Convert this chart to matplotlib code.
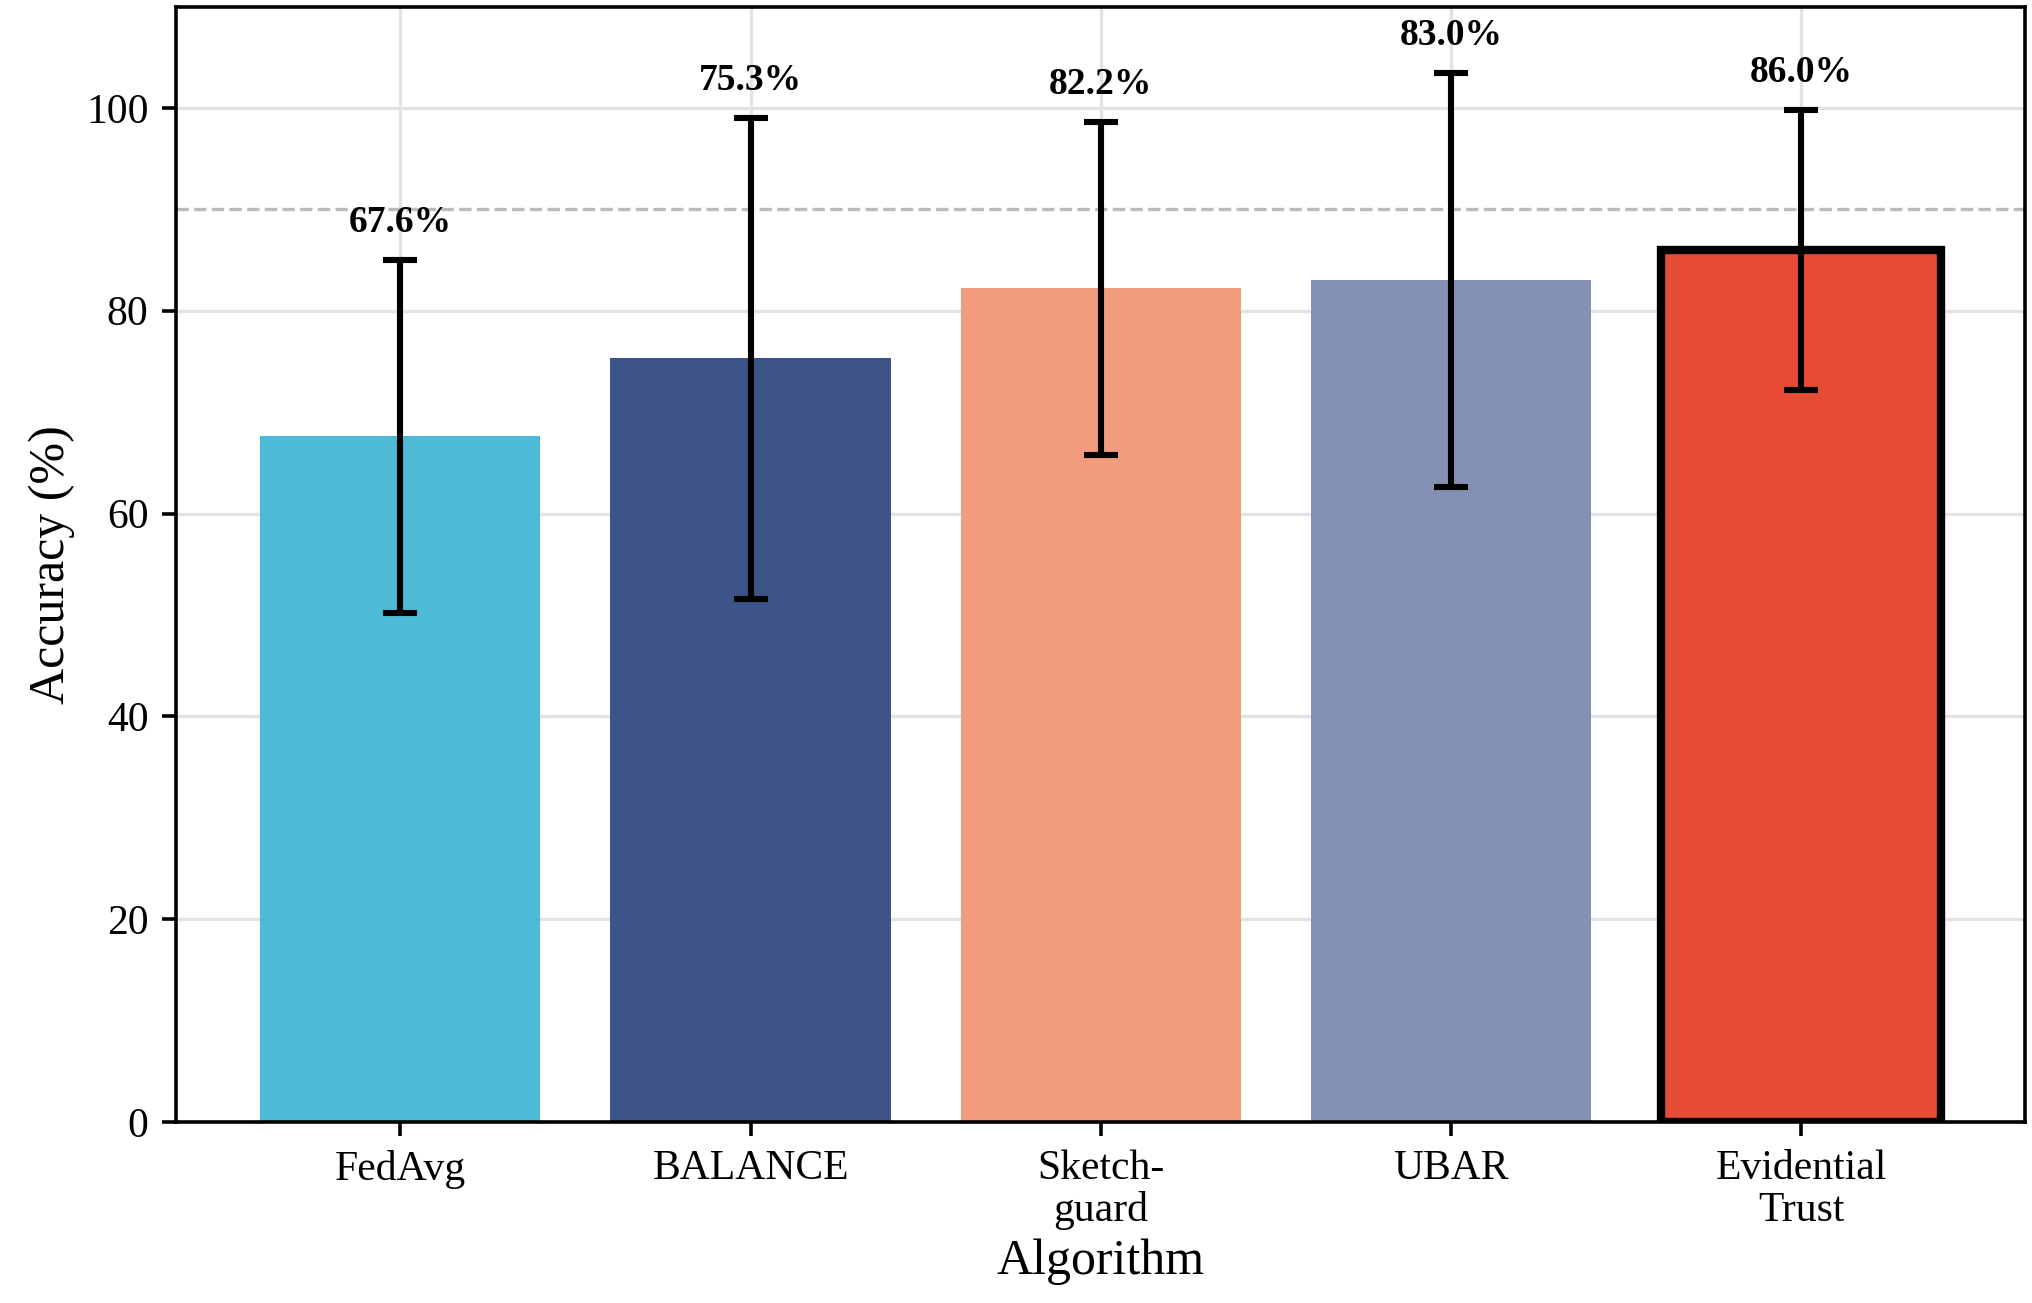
import numpy as np
import matplotlib
matplotlib.use("Agg")
import matplotlib.pyplot as plt

plt.rcParams['font.family'] = ['Liberation Serif', 'DejaVu Serif']

# Dados
algoritmos = ["FedAvg", "BALANCE", "Sketch-\nguard", "UBAR", "Evidential\nTrust"]
acuracia = [67.6, 75.3, 82.2, 83.0, 86.0]
desvio = [17.4, 23.7, 16.4, 20.4, 13.8]
cores = ["#4DBBD5", "#3C5488", "#F39B7F", "#8491B4", "#E64B35"]
referencia = 90

fig = plt.figure(figsize=(10.165, 6.515), dpi=200)
ax = fig.add_axes([0.0867, 0.139, 0.9095, 0.856])

x = np.arange(len(algoritmos))
barras = ax.bar(x, acuracia, width=0.8, color=cores, zorder=2)
barras[-1].set_edgecolor("black")
barras[-1].set_linewidth(3)

ax.errorbar(x, acuracia, yerr=desvio, fmt="none", ecolor="black",
            elinewidth=2.2, capsize=6, capthick=2.2, zorder=3)

# Rótulos de valor
for xi, v, d in zip(x, acuracia, desvio):
    ax.text(xi, v + d + 2.0, f"{v:.1f}%", ha="center", va="bottom",
            fontsize=13.5, fontweight="bold")

ax.axhline(referencia, color="#bbbbbb", linestyle="--", linewidth=1.2, zorder=1)

ax.set_ylim(0, 110)
ax.set_yticks([0, 20, 40, 60, 80, 100])
ax.set_xticks(x)
ax.set_xticklabels(algoritmos, fontsize=15, linespacing=1.1)
ax.tick_params(axis="y", labelsize=15)
ax.tick_params(length=5, width=1.3, pad=5)
ax.grid(True, color="#e3e3e3", linewidth=1.2, zorder=0)
ax.set_axisbelow(True)
for s in ax.spines.values():
    s.set_linewidth(1.3)

ax.set_xlabel("Algorithm", fontsize=18, labelpad=3)
ax.set_ylabel("Accuracy (%)", fontsize=18, labelpad=4)

plt.savefig("out.png", dpi=200)
